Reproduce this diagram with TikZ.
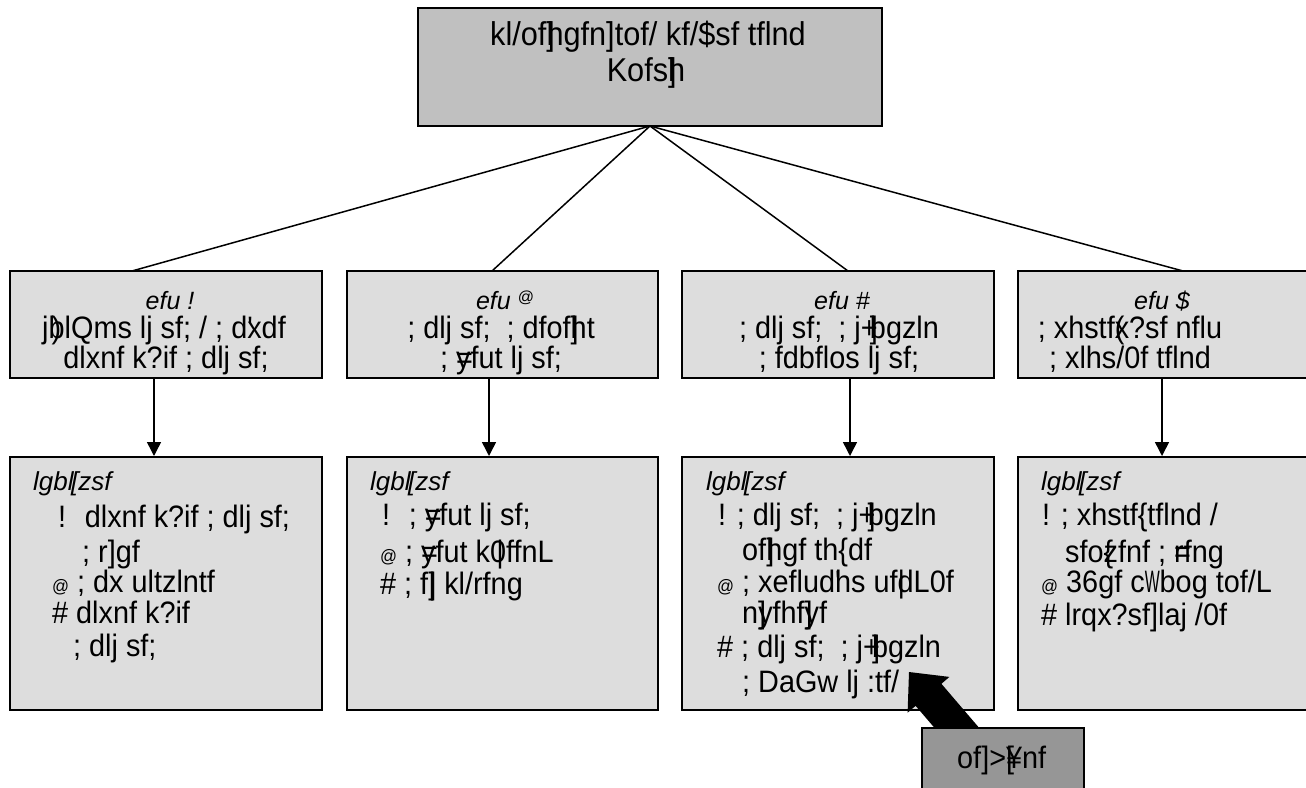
\documentclass[tikz,border=0pt]{standalone}
\usepackage{fontspec}
\setmainfont{Liberation Sans}
\newfontfamily\nrw{Liberation Sans}[FakeStretch=0.93]
\usetikzlibrary{arrows.meta}
\definecolor{topgray}{RGB}{192,192,192}
\definecolor{boxgray}{RGB}{221,221,221}
\definecolor{callgray}{RGB}{150,150,150}
\newcommand\ovl[2]{\rlap{#1}#2}
\newcommand\smat{\raisebox{0.25em}{\fontsize{16}{16}\selectfont @}}
\newcommand\lowat{{\fontsize{18}{18}\selectfont @}}
\newcommand\hdtext{lgbl\kern-0.1em[zsf}
\begin{document}
\begin{tikzpicture}[x=1pt,y=-1pt,
  boxA/.style={draw=black,line width=2.2pt,fill=topgray,inner sep=0,outer sep=0},
  boxB/.style={draw=black,line width=2.2pt,fill=boxgray,inner sep=0,outer sep=0},
  boxC/.style={draw=black,line width=2.2pt,fill=callgray,inner sep=0,outer sep=0},
  tx/.style={anchor=base west,inner sep=0,font=\nrw\fontsize{31}{36}\selectfont},
  tc/.style={anchor=base,inner sep=0,font=\nrw\fontsize{31}{36}\selectfont},
  hd/.style={anchor=base west,inner sep=0,font=\fontsize{26}{30}\selectfont\itshape},
  hc/.style={anchor=base,inner sep=0,font=\fontsize{25}{30}\selectfont\itshape},
  conn/.style={line width=1.5pt},
  arr/.style={line width=1.5pt,-{Triangle[length=14pt,width=14pt]}}]
\useasboundingbox (0,0) rectangle (1306,787);
\fill[white] (0,0) rectangle (1306,787);

% boxes
\node[boxA,minimum width=464pt,minimum height=118pt] (top) at (650,67) {};
\node[boxB,minimum width=312pt,minimum height=107pt] (m1) at (166,324.5) {};
\node[boxB,minimum width=311pt,minimum height=107pt] (m2) at (502.5,324.5) {};
\node[boxB,minimum width=312pt,minimum height=107pt] (m3) at (838,324.5) {};
\node[boxB,minimum width=312pt,minimum height=107pt] (m4) at (1174,324.5) {};
\node[boxB,minimum width=312pt,minimum height=253pt] (l1) at (166,583.5) {};
\node[boxB,minimum width=311pt,minimum height=253pt] (l2) at (502.5,583.5) {};
\node[boxB,minimum width=312pt,minimum height=253pt] (l3) at (838,583.5) {};
\node[boxB,minimum width=312pt,minimum height=253pt] (l4) at (1174,583.5) {};

% connectors from top
\coordinate (c0) at (650,126);
\coordinate (e1) at (132,271);
\coordinate (e2) at (492,271);
\coordinate (e3) at (848,271);
\coordinate (e4) at (1183,271);
\draw[conn] (c0) -- (e1);
\draw[conn] (c0) -- (e2);
\draw[conn] (c0) -- (e3);
\draw[conn] (c0) -- (e4);

% arrows mid -> low
\coordinate (a1s) at (154,379); \coordinate (a1e) at (154,456);
\coordinate (a2s) at (489,379); \coordinate (a2e) at (489,456);
\coordinate (a3s) at (850,379); \coordinate (a3e) at (850,456);
\coordinate (a4s) at (1162,379); \coordinate (a4e) at (1162,456);
\draw[arr] (a1s) -- (a1e);
\draw[arr] (a2s) -- (a2e);
\draw[arr] (a3s) -- (a3e);
\draw[arr] (a4s) -- (a4e);

% top text
\node[tc,font=\nrw\fontsize{33}{38}\selectfont] (tt1) at (648,45) {kl/of\ovl{]}{h}gfn]tof/ kf/\$sf tflnd};
\node[tc,font=\nrw\fontsize{33}{38}\selectfont] (tt2) at (646,81) {Kofs\ovl{]}{h}};

% mid texts
\node[hc] (m1a) at (170,309) {efu !};
\node[tc] (m1b) at (164,338) {j\ovl{\kern0.1em)}{b}lQms lj sf; / ; d\ovl{'}{x}df};
\node[tc] (m1c) at (166,368) {dlxnf k?if ; dlj sf;};
\node[hc] (m2a) at (505,309) {efu \smat};
\node[tc] (m2b) at (501,338) {; dlj sf; \ ; dfof\ovl{]}{h}t};
\node[tc] (m2c) at (501,368) {; \ovl{=}{y}fut lj sf;};
\node[hc] (m3a) at (842,309) {efu \#};
\node[tc] (m3b) at (839,338) {; dlj sf; \ ; j+\kern-0.25em\ovl{]}{b}gzln};
\node[tc] (m3c) at (839,368) {; fdbflos lj sf;};
\node[hc] (m4a) at (1162,309) {efu \$};
\node[tc] (m4b) at (1130,338) {; xhstf\ovl{(}{x}?sf nflu};
\node[tc] (m4c) at (1130,368) {; xlhs/0f tflnd};

% low box 1
\node[hd] (p1h) at (33,490) {\hdtext};
\node[tx] (p11) at (58,527) {! \ dlxnf k?if ; dlj sf;};
\node[tx] (p12) at (82,562) {; r]gf};
\node[tx] (p13) at (52,592) {\lowat\ ; dx ultzlntf};
\node[tx] (p14) at (52,623) {\# dlxnf k?if};
\node[tx] (p15) at (73,656) {; dlj sf;};
% low box 2
\node[hd] (p2h) at (370,490) {\hdtext};
\node[tx] (p21) at (382,525) {! \ ; \ovl{=}{y}fut lj sf;};
\node[tx] (p22) at (380,562) {\lowat\ ; \ovl{=}{y}fut k\ovl{\kern0.2em|}{0}ffnL};
\node[tx] (p23) at (380,594) {\# ; f\ovl{|}{]} kl/rfng};
% low box 3
\node[hd] (p3h) at (706,490) {\hdtext};
\node[tx] (p31) at (718,525) {! ; dlj sf; \ ; j+\kern-0.25em\ovl{]}{b}gzln};
\node[tx] (p32) at (742,560) {of\ovl{]}{h}gf th\{df};
\node[tx] (p33) at (717,592) {\lowat\ ; xeflud\ovl{'}{h}s uf\ovl{|}{d}L0f};
\node[tx] (p34) at (742,623) {n\ovl{]}{y}fhf\ovl{]}{y}f};
\node[tx] (p35) at (717,657) {\# ; dlj sf; \ ; j+\kern-0.25em\ovl{]}{b}gzln};
\node[tx] (p36) at (742,692) {; DaGw lj :tf/};
% low box 4
\node[hd] (p4h) at (1041,490) {\hdtext};
\node[tx] (p41) at (1042,525) {! ; xhstf\{tflnd /};
\node[tx] (p42) at (1065,562) {sfo\ovl{\{}{z}fnf ; \ovl{=}{r}fng};
\node[tx] (p43) at (1041,592) {\lowat\ 36gf c\scalebox{0.55}[1]{W}bog tof/L};
\node[tx] (p44) at (1041,625) {\# lrqx?sf]laj /0f};

% callout arrow
\fill[black] (909,672) -- (949.4,676.9) -- (941.4,683.8) -- (993.4,744.5)
  -- (967.6,766.5) -- (915.6,705.8) -- (907.6,712.7) -- cycle;
\node[boxC,minimum width=162pt,minimum height=72pt] (call) at (1003,764) {};
\node[tx] (callt) at (957,768) {of]>\ovl{[}{¥}nf};
\end{tikzpicture}
\end{document}
